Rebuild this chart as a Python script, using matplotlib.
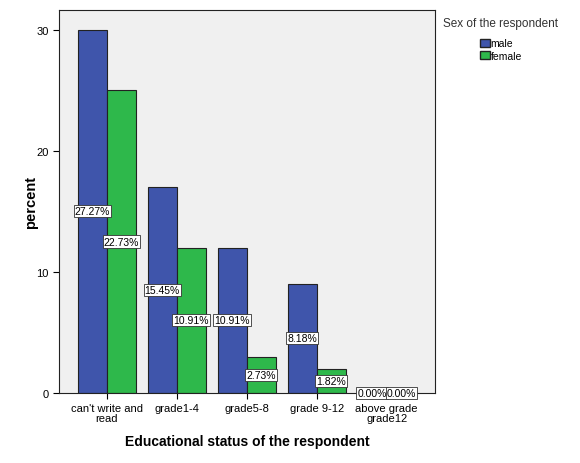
import matplotlib.pyplot as plt
import numpy as np
from matplotlib.patches import Patch

plt.rcParams['font.family'] = ['Liberation Sans', 'DejaVu Sans']

categories = ["can't write and\nread", "grade1-4", "grade5-8", "grade 9-12", "above grade\ngrade12"]
male = [30, 17, 12, 9, 0]
female = [25, 12, 3, 2, 0]
male_pct = ["27.27%", "15.45%", "10.91%", "8.18%", "0.00%"]
female_pct = ["22.73%", "10.91%", "2.73%", "1.82%", "0.00%"]

blue = "#3F55AB"
green = "#2EB84B"

fig = plt.figure(figsize=(5.8, 4.64), dpi=100)
ax = fig.add_axes([0.102, 0.151, 0.648, 0.825])
ax.set_facecolor("#F0F0F0")

x = np.arange(len(categories))
w = 0.415
ax.bar(x - w / 2, male, w, color=blue, edgecolor="#222222", linewidth=0.8)
ax.bar(x + w / 2, female, w, color=green, edgecolor="#222222", linewidth=0.8)

box = dict(boxstyle="square,pad=0.1", fc="white", ec="#333333", lw=0.6)
for i in range(len(categories)):
    ax.text(x[i] - w / 2, male[i] / 2, male_pct[i], ha="center", va="center",
            fontsize=7.5, bbox=box)
    ax.text(x[i] + w / 2, female[i] / 2, female_pct[i], ha="center", va="center",
            fontsize=7.5, bbox=box)

ax.set_xlim(-0.68, 4.69)
ax.set_ylim(0, 31.6)
ax.set_yticks([0, 10, 20, 30])
ax.set_xticks(x)
ax.set_xticklabels(categories, fontsize=8, linespacing=0.95)
ax.tick_params(axis="y", labelsize=8, length=4, width=0.8)
ax.tick_params(axis="x", length=4, width=0.8)
for s in ax.spines.values():
    s.set_color("#222222")
    s.set_linewidth(0.8)

ax.set_ylabel("percent", fontsize=10.5, fontweight="bold", labelpad=-1)
ax.set_xlabel("Educational status of the respondent", fontsize=10, fontweight="bold", labelpad=8)

fig.text(0.764, 0.948, "Sex of the respondent", fontsize=8.5, color="#333333", va="center")
handles = [Patch(facecolor=blue, edgecolor="#222222"), Patch(facecolor=green, edgecolor="#222222")]
fig.legend(handles, ["male", "female"], loc="upper left", bbox_to_anchor=(0.828, 0.915),
           frameon=False, fontsize=7.5, handlelength=0.9, handleheight=0.9,
           handletextpad=0.1, labelspacing=0.2, borderpad=0, borderaxespad=0)

fig.savefig("out.png", dpi=100)
